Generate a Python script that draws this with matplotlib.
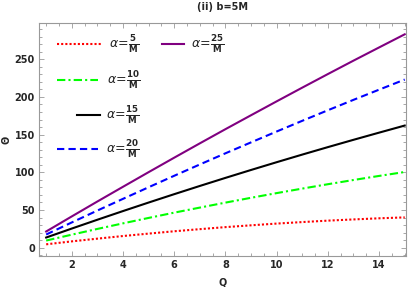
import matplotlib
matplotlib.use('Agg')
import matplotlib.pyplot as plt
from matplotlib.ticker import MultipleLocator

# ============================================================
# DATA
# ============================================================
Q = [1, 2, 3, 4, 5, 6, 7, 8, 9, 10, 11, 12, 13, 14, 15]

theta_a5 = [4.5, 8.4, 12.0, 15.5, 18.7, 21.8, 24.6, 27.3, 29.7, 32.0, 34.0, 35.9, 37.5, 39.0, 40.2]
theta_a10 = [9.5, 17.3, 24.9, 32.3, 39.5, 46.5, 53.2, 59.8, 66.2, 72.4, 78.4, 84.2, 89.8, 95.2, 100.4]
theta_a15 = [13.5, 25.4, 37.1, 48.6, 59.9, 71.0, 81.9, 92.6, 103.1, 113.4, 123.5, 133.4, 143.1, 152.6, 162.0]
theta_a20 = [17.5, 33.5, 49.3, 64.8, 80.2, 95.4, 110.4, 125.2, 139.7, 154.1, 168.3, 182.3, 196.1, 209.6, 223.0]
theta_a25 = [21.5, 41.5, 61.3, 80.8, 100.2, 119.4, 138.4, 157.2, 175.7, 194.1, 212.3, 230.3, 248.1, 265.6, 283.0]

alphas = ['5', '10', '15', '20', '25']
series = [theta_a5, theta_a10, theta_a15, theta_a20, theta_a25]

# ============================================================
# STYLE
# ============================================================
colors = ['#ff0000', '#00ff00', '#000000', '#0000ff', '#800080']
styles = [(0, (1.0, 1.0)), (0, (4.0, 1.5, 1.0, 1.5)), '-', (0, (3.5, 2.0)), '-']

# legend key placement in axes fractions: (x0, x1, y, text_x)
key_pos = [
    (0.049, 0.168, 0.908, 0.190),
    (0.049, 0.162, 0.755, 0.186),
    (0.103, 0.166, 0.607, 0.182),
    (0.049, 0.162, 0.458, 0.182),
    (0.334, 0.394, 0.908, 0.413),
]

TICK_COLOR = '#262626'
FRAME_COLOR = '#999999'

plt.rcParams['font.family'] = ['DejaVu Sans']
plt.rcParams['mathtext.fontset'] = 'dejavusans'

fig = plt.figure(figsize=(4.15, 2.87), dpi=100)
ax = fig.add_axes([39 / 415, 1 - 256 / 287, 367 / 415, 233 / 287])

for vals, c, ls in zip(series, colors, styles):
    ax.plot(Q, vals, color=c, linestyle=ls, linewidth=1.5)

ax.set_xlim(0.72, 15.05)
ax.set_ylim(-11, 298)

ax.xaxis.set_major_locator(MultipleLocator(2))
ax.xaxis.set_minor_locator(MultipleLocator(0.5))
ax.yaxis.set_major_locator(MultipleLocator(50))
ax.yaxis.set_minor_locator(MultipleLocator(10))

ax.tick_params(which='both', direction='in', top=True, right=True,
               color=FRAME_COLOR, width=0.6)
ax.tick_params(which='major', length=3.5, labelsize=7, labelcolor=TICK_COLOR, pad=3)
ax.tick_params(which='minor', length=2)
for lab in ax.get_xticklabels() + ax.get_yticklabels():
    lab.set_fontweight('bold')
for sp in ax.spines.values():
    sp.set_color(FRAME_COLOR)
    sp.set_linewidth(0.8)

ax.set_xlabel('Q', fontsize=7, fontweight='bold', color=TICK_COLOR, labelpad=5)
ax.set_ylabel('Θ', fontsize=7, fontweight='bold', color=TICK_COLOR, labelpad=2)
ax.set_title('(ii) b=5M', fontsize=7, fontweight='bold', color=TICK_COLOR, pad=9)

# legend drawn inside the frame
for (x0, x1, y, tx), a, c, ls in zip(key_pos, alphas, colors, styles):
    ax.plot([x0, x1], [y, y], transform=ax.transAxes, color=c, linestyle=ls, linewidth=1.5)
    ax.text(tx, y, r'$\alpha\!=\!\frac{\mathbf{%s}}{\mathbf{M}}$' % a, transform=ax.transAxes,
            fontsize=9, color=TICK_COLOR, va='center', ha='left')

fig.savefig('out.png', dpi=100)
